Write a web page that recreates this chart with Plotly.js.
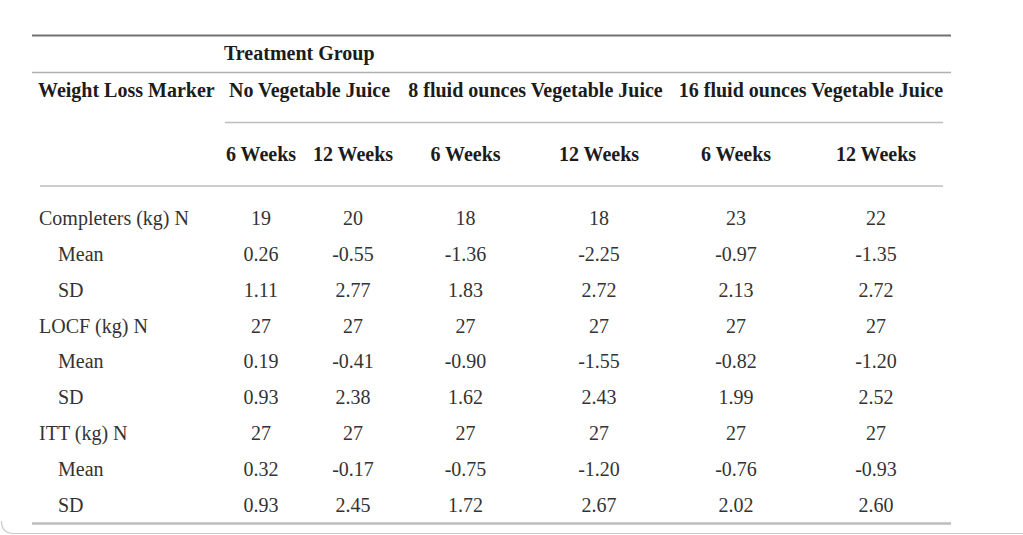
<!DOCTYPE html>
<html>
<head>
<meta charset="utf-8">
<script src="https://cdn.plot.ly/plotly-3.0.1.min.js"></script>
<style>html,body{margin:0;padding:0;background:#fff;}#chart{width:1023px;height:535px;}</style>
</head>
<body>
<div id="chart"></div>
<script>
// ---- data ----
const spannerTitle = "Treatment Group";
const stubTitle = "Weight Loss Marker";
const groups = ["No Vegetable Juice", "8 fluid ounces Vegetable Juice", "16 fluid ounces Vegetable Juice"];
const periods = ["6 Weeks", "12 Weeks"];
const rowLabels = ["Completers (kg) N", "Mean", "SD", "LOCF (kg) N", "Mean", "SD", "ITT (kg) N", "Mean", "SD"];
const completersN    = [19, 20, 18, 18, 23, 22];
const completersMean = [0.26, -0.55, -1.36, -2.25, -0.97, -1.35];
const completersSD   = [1.11, 2.77, 1.83, 2.72, 2.13, 2.72];
const locfN    = [27, 27, 27, 27, 27, 27];
const locfMean = [0.19, -0.41, -0.90, -1.55, -0.82, -1.20];
const locfSD   = [0.93, 2.38, 1.62, 2.43, 1.99, 2.52];
const ittN    = [27, 27, 27, 27, 27, 27];
const ittMean = [0.32, -0.17, -0.75, -1.20, -0.76, -0.93];
const ittSD   = [0.93, 2.45, 1.72, 2.67, 2.02, 2.60];

// ---- layout config (positions / styles) ----
const W = 1023, H = 535;
const colX = [261, 353, 465.5, 599, 736, 876];
const groupX = [309.5, 535.5, 811];
const rowY = [220, 255.5, 291.5, 327.5, 363, 399, 435, 471, 507];
const rowIndent = [39, 58, 58, 39, 58, 58, 39, 58, 58];
const FONT = "Liberation Serif, Times New Roman, serif";
const FS = 20;
const txtColor = "#333333";
const boldColor = "#1c1c1c";

const rows = [
  {v: completersN, d: 0}, {v: completersMean, d: 2}, {v: completersSD, d: 2},
  {v: locfN, d: 0}, {v: locfMean, d: 2}, {v: locfSD, d: 2},
  {v: ittN, d: 0}, {v: ittMean, d: 2}, {v: ittSD, d: 2}
];

const cx = [], cy = [], ct = [];
rows.forEach((r, i) => {
  r.v.forEach((val, j) => {
    cx.push(colX[j]); cy.push(rowY[i]); ct.push(val.toFixed(r.d));
  });
});

const base = {type: "scatter", mode: "text", hoverinfo: "skip", showlegend: false, cliponaxis: false};

const traces = [
  Object.assign({}, base, {
    x: cx, y: cy, text: ct, textposition: "middle center",
    textfont: {family: FONT, size: FS, color: txtColor}
  }),
  Object.assign({}, base, {
    x: rowIndent, y: rowY, text: rowLabels, textposition: "middle right",
    textfont: {family: FONT, size: FS, color: txtColor}
  }),
  Object.assign({}, base, {
    x: [224, 38], y: [55, 92], text: ["<b>" + spannerTitle + "</b>", "<b>" + stubTitle + "</b>"],
    textposition: "middle right",
    textfont: {family: FONT, size: FS, color: boldColor}
  }),
  Object.assign({}, base, {
    x: groupX, y: groupX.map(() => 92), text: groups.map(g => "<b>" + g + "</b>"),
    textposition: "middle center",
    textfont: {family: FONT, size: FS, color: boldColor}
  }),
  Object.assign({}, base, {
    x: colX, y: colX.map(() => 155.5),
    text: colX.map((_, j) => "<b>" + periods[j % 2] + "</b>"),
    textposition: "middle center",
    textfont: {family: FONT, size: FS, color: boldColor}
  })
];

function hline(x0, x1, y, color, w) {
  return {type: "line", xref: "x", yref: "y", x0: x0, x1: x1, y0: y, y1: y, line: {color: color, width: w}};
}

const layout = {
  width: W, height: H,
  margin: {l: 0, r: 0, t: 0, b: 0},
  paper_bgcolor: "#ffffff", plot_bgcolor: "#ffffff",
  xaxis: {range: [0, W], visible: false, fixedrange: true},
  yaxis: {range: [H, 0], visible: false, fixedrange: true},
  shapes: [
    hline(32, 951, 35.5, "#707070", 2),
    hline(32, 951, 72.5, "#b0b0b0", 1.5),
    hline(225, 943, 122.5, "#bdbdbd", 1.5),
    hline(40, 943, 186, "#bdbdbd", 1.5),
    hline(32, 951, 523.5, "#bdbdbd", 2.5),
    {type: "path", xref: "x", yref: "y",
     path: "M 1023 533.5 L 14 533.5 Q 1.5 533.5 1.5 521",
     line: {color: "#c8c8c8", width: 1.2}}
  ]
};

Plotly.newPlot("chart", traces, layout, {staticPlot: true, displayModeBar: false});
</script>
</body>
</html>
